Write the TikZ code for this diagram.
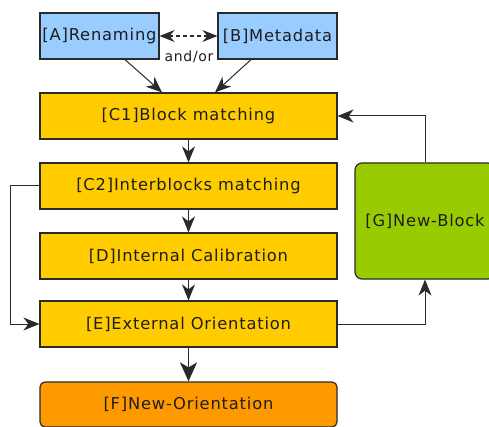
\documentclass[tikz,border=0pt]{standalone}
\usepackage{fontspec}
\setmainfont[LetterSpace=5]{DejaVu Sans}
\usetikzlibrary{arrows.meta}
\definecolor{boxblue}{HTML}{99CCFF}
\definecolor{boxyellow}{HTML}{FFCC00}
\definecolor{boxorange}{HTML}{FF9900}
\definecolor{boxgreen}{HTML}{99CC00}
\definecolor{edge}{HTML}{2A2A2A}
\definecolor{txt}{HTML}{1E1E1E}
\begin{document}
\begin{tikzpicture}[x=1pt,y=-1pt,
  box/.style={draw=edge,line width=1.2pt,inner sep=0pt,text=txt,
    font=\fontsize{16.3}{18}\selectfont},
  bluebox/.style={box,fill=boxblue,minimum width=119pt,minimum height=46pt},
  widebox/.style={box,fill=boxyellow,minimum width=297pt,minimum height=46pt},
  link/.style={draw=edge,line width=1pt,-{Stealth[length=16pt,width=13pt,inset=5pt]}},
  biglink/.style={draw=edge,line width=1.4pt,-{Stealth[length=19pt,width=17pt,inset=5pt]}}]
\useasboundingbox (0,0) rectangle (489,427);
\node[bluebox] (A) at (99.5,36) {[A]Renaming};
\node[bluebox] (B) at (277.5,36) {[B]Metadata};
\node[widebox] (C1) at (188.5,116) {[C1]Block matching};
\node[widebox] (C2) at (188.5,186) {[C2]Interblocks matching};
\node[widebox] (D) at (188.5,256) {[D]Internal Calibration};
\node[widebox] (E) at (188.5,324) {[E]External Orientation};
\node[box,fill=boxorange,rounded corners=5pt,minimum width=297pt,minimum height=45pt] (F) at (188.5,404.5) {[F]New-Orientation};
\node[box,fill=boxgreen,rounded corners=7pt,minimum width=140pt,minimum height=116pt] (G) at (425,221) {[G]New-Block};
\node[text=txt,font=\fontsize{14}{16}\selectfont,inner sep=0pt] (andor) at (189,57) {and/or};
% connectors
\draw[draw=edge,line width=1.2pt,dash pattern=on 4pt off 3pt,{Stealth[length=15pt,width=12pt,inset=5pt]}-{Stealth[length=15pt,width=12pt,inset=5pt]}] (A.east) -- (B.east -| B.west);
\draw[link] (A.south -| 125,0) -- (C1.north -| 162,0);
\draw[link] (B.south -| 251,0) -- (C1.north -| 215,0);
\draw[link] (C1) -- (C2);
\draw[link] (C2) -- (D);
\draw[link] (D) -- (E);
\draw[biglink] (E) -- (F);
\draw[link] (G.north) |- (C1.east);
\draw[link] (E.east) -| (G.south);
\coordinate (L) at (10,186);
\draw[link] (C2.west) -- (L) |- (E.west);
\end{tikzpicture}
\end{document}
